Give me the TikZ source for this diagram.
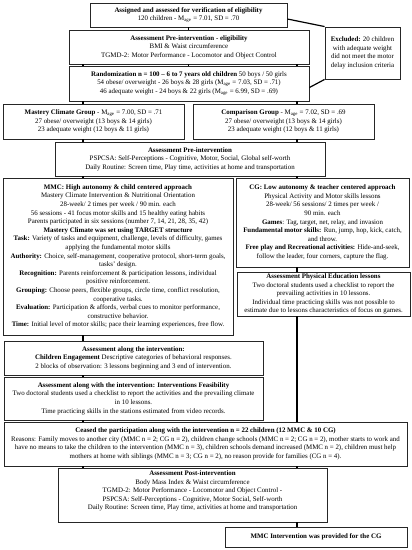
\documentclass[tikz,border=0pt]{standalone}
\usepackage{fontspec}
\setmainfont{Liberation Serif}
\begin{document}
\begin{tikzpicture}[x=1pt,y=-1pt,
  box/.style={draw=black!85, line width=0.9pt, align=center, inner sep=0.5pt,
    font=\fontsize{6.9}{8.6}\selectfont, fill=white},
  conn/.style={draw=black, line width=1.4pt},
  exline/.style={draw=black, line width=1.2pt}]
\useasboundingbox (0,0) rectangle (412,550);
\coordinate (xl) at (83,0);
\coordinate (xm) at (188.5,0);
\coordinate (xr) at (297,0);

\node[box, minimum width=197pt, minimum height=24pt] (b1) at (188.5,15)
 {\textbf{Assigned and assessed for verification of eligibility}\\
  120 children - M\textsubscript{age} = 7.01, SD = .70};
\node[box, minimum width=240pt, minimum height=34pt] (b2) at (189,47)
 {\textbf{Assessment Pre-intervention - eligibility}\\
  BMI \& Waist circumference\\
  TGMD-2: Motor Performance - Locomotor and Object Control};
\node[box, minimum width=240pt, minimum height=35pt] (b3) at (189,83.5)
 {\textbf{Randomization n = 100 – 6 to 7 years old children} 50 boys / 50 girls\\
  54 obese/ overweight - 26 boys \& 28 girls (M\textsubscript{age} = 7.03, SD = .71)\\
  46 adequate weight - 24 boys \& 22 girls (M\textsubscript{age} = 6.99, SD = .69)};
\node[box, minimum width=75pt, minimum height=52pt] (excl) at (362.5,53)
 {\textbf{Excluded:} 20 children\\ with adequate weight\\ did not meet the motor\\ delay inclusion criteria};
\node[box, minimum width=181pt, minimum height=35pt] (mcg) at (93.5,121.5)
 {\textbf{Mastery Climate Group} - M\textsubscript{age} = 7.00, SD = .71\\
  27 obese/ overweight (13 boys \& 14 girls)\\
  23 adequate weight (12 boys \& 11 girls)};
\node[box, minimum width=181pt, minimum height=35pt] (cgg) at (283.5,121.5)
 {\textbf{Comparison Group} - M\textsubscript{age} = 7.02, SD = .69\\
  27 obese/ overweight (13 boys \& 14 girls)\\
  23 adequate weight (12 boys \& 11 girls)};
\node[box, minimum width=270pt, minimum height=34pt] (pre) at (190,159)
 {\textbf{Assessment Pre-intervention}\\
  PSPCSA: Self-Perceptions - Cognitive, Motor, Social, Global self-worth\\
  Daily Routine: Screen time, Play time, activities at home and transportation};
\node[box, minimum width=230pt, minimum height=157pt] (mmc) at (118,256.5)
 {\textbf{MMC: High autonomy \& child centered approach}\\
  Mastery Climate Intervention \& Nutritional Orientation\\
  28-week/ 2 times per week / 90 min. each\\
  56 sessions - 41 focus motor skills and 15 healthy eating habits\\
  Parents participated in six sessions (number 7, 14, 21, 28, 35, 42)\\
  \textbf{Mastery Climate was set using TARGET structure}\\
  \textbf{Task:} Variety of tasks and equipment, challenge, levels of difficulty, games\\
  applying the fundamental motor skills\\
  \textbf{Authority:} Choice, self-management, cooperative protocol, short-term goals,\\
  tasks' design.\\
  \textbf{Recognition:} Parents reinforcement \& participation lessons, individual\\
  positive reinforcement.\\
  \textbf{Grouping:} Choose peers, flexible groups, circle time, conflict resolution,\\
  cooperative tasks.\\
  \textbf{Evaluation:} Participation \& affords, verbal cues to monitor performance,\\
  constructive behavior.\\
  \textbf{Time:} Initial level of motor skills; pace their learning experiences, free flow.};
\node[box, minimum width=173pt, minimum height=89pt] (cgi) at (322.5,222.5)
 {\textbf{CG: Low autonomy \& teacher centered approach}\\
  Physical Activity and Motor skills lessons\\
  28-week/ 56 sessions/ 2 times per week /\\
  90 min. each\\
  \textbf{Games}: Tag, target, net, relay, and invasion\\
  \textbf{Fundamental motor skills:} Run, jump, hop, kick, catch,\\
  and throw.\\
  \textbf{Free play and Recreational activities:} Hide-and-seek,\\
  follow the leader, four corners, capture the flag.};
\node[box, minimum width=173pt, minimum height=44pt] (pe) at (323.5,294)
 {\textbf{Assessment Physical Education lessons}\\
  Two doctoral students used a checklist to report the\\
  prevailing activities in 10 lessons.\\
  Individual time practicing skills was not possible to\\
  estimate due to lessons characteristics of focus on games.};
\node[box, minimum width=259pt, minimum height=34pt] (eng) at (133.5,358)
 {\textbf{Assessment along the intervention:}\\
  \textbf{Children Engagement} Descriptive categories of behavioral responses.\\
  2 blocks of observation: 3 lessons beginning and 3 end of intervention.};
\node[box, minimum width=259pt, minimum height=43pt] (feas) at (133.5,398.5)
 {\textbf{Assessment along with the intervention: Interventions Feasibility}\\
  Two doctoral students used a checklist to report the activities and the prevailing climate\\
  in 10 lessons.\\
  Time practicing skills in the stations estimated from video records.};
\node[box, minimum width=403pt, minimum height=44pt] (ceased) at (205.5,444)
 {\textbf{Ceased the participation along with the intervention n = 22 children (12 MMC \& 10 CG)}\\
  Reasons: Family moves to another city (MMC n = 2; CG n = 2), children change schools (MMC n = 2; CG n = 2), mother starts to work and\\
  have no means to take the children to the intervention (MMC n = 3), children schools demand increased (MMC n = 2), children must help\\
  mothers at home with siblings (MMC n = 3; CG n = 2), no reason provide for families (CG n = 4).};
\node[box, minimum width=269pt, minimum height=54pt] (post) at (192.5,495)
 {\textbf{Assessment Post-intervention}\\
  Body Mass Index \& Waist circumference\\
  TGMD-2: Motor Performance - Locomotor and Object Control -\\
  PSPCSA: Self-Perceptions - Cognitive, Motor Social, Self-worth\\
  Daily Routine: Screen time, Play time, activities at home and transportation\\[1pt]};
\node[box, minimum width=182pt, minimum height=20pt] (cgmmc) at (316,537)
 {\textbf{MMC Intervention was provided for the CG}};

% connectors
\draw[conn] (xm |- b1.south) -- (xm |- b2.north);
\draw[conn] (xl |- b2.south) -- (xl |- b3.north);
\draw[conn] (xm |- b2.south) -- (xm |- b3.north);
\draw[conn] (xr |- b2.south) -- (xr |- b3.north);
\draw[conn] (xl |- b3.south) -- (xl |- mcg.north);
\draw[conn] (xr |- b3.south) -- (xr |- cgg.north);
\draw[conn] (xl |- mcg.south) -- (xl |- pre.north);
\draw[conn] (xr |- cgg.south) -- (xr |- pre.north);
\draw[conn] (xl |- pre.south) -- (xl |- mmc.north);
\draw[conn] (xr |- pre.south) -- (xr |- cgi.north);
\draw[conn] (xr |- cgi.south) -- (xr |- pe.north);
\draw[conn] (xl |- mmc.south) -- (xl |- eng.north);
\draw[conn] (xl |- eng.south) -- (xl |- feas.north);
\draw[conn] (xl |- feas.south) -- (xl |- ceased.north);
\draw[conn] (xr |- pe.south) -- (xr |- ceased.north);
\draw[conn] (xl |- ceased.south) -- (xl |- post.north);
\draw[conn] (xr |- ceased.south) -- (xr |- post.north);
\draw[conn] (xr |- post.south) -- (xr |- cgmmc.north);
\draw[exline] ([yshift=-4pt]b1.east) -- (excl.north west);
\draw[exline] ([yshift=-4pt]b3.east) -- (excl.south west);
\end{tikzpicture}
\end{document}
